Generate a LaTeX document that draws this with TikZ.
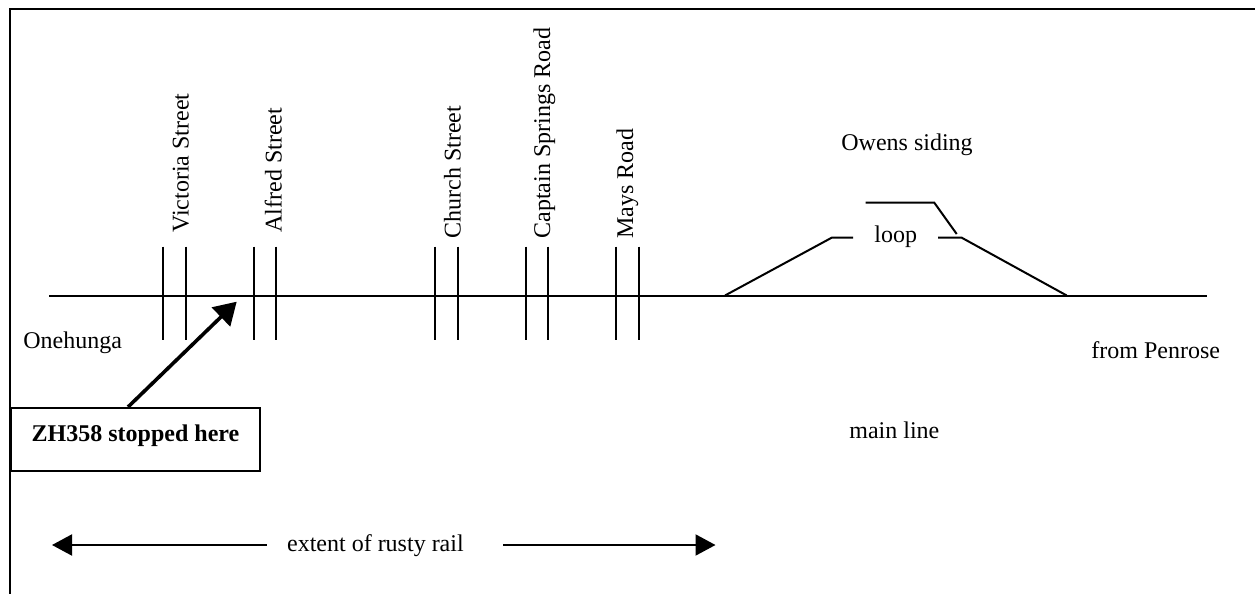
\documentclass[tikz,border=0pt]{standalone}
\usepackage{fontspec}
\setmainfont{Liberation Serif}
\usetikzlibrary{arrows.meta}
\begin{document}
\begin{tikzpicture}[x=0.5pt,y=-0.5pt,
  every node/.style={font=\fontsize{12pt}{14pt}\selectfont, inner sep=0pt},
  rail/.style={line width=1pt},
  road/.style={line width=1pt},
  lbl/.style={anchor=base west},
  rlbl/.style={rotate=90, anchor=base west},
  bigarrow/.style={line width=1.8pt, -{Triangle[length=11pt,width=13pt]}},
  extent/.style={line width=1pt, -{Triangle[length=10pt,width=10.5pt]}},
  frame/.style={line width=1pt}]
\useasboundingbox (0,0) rectangle (1255,594);
% frame
\coordinate (fbl) at (10,594);
\coordinate (ftl) at (10,9);
\coordinate (ftr) at (1255,9);
\draw[frame] (fbl) -- (ftl) -- (ftr);
% main line
\coordinate (mlw) at (49,295.5);
\coordinate (mle) at (1207,295.5);
\draw[rail] (mlw) -- (mle);
% road crossings
\foreach \name/\xa/\xb in {vic/163/186, alf/254/276, chu/435/458, cap/526/548, may/616/639}{
  \coordinate (\name a1) at (\xa,246.5);
  \coordinate (\name a2) at (\xa,340);
  \coordinate (\name b1) at (\xb,246.5);
  \coordinate (\name b2) at (\xb,340);
  \draw[road] (\name a1) -- (\name a2);
  \draw[road] (\name b1) -- (\name b2);
}
% road labels
\node[rlbl] (vicl) at (188.5,233) {Victoria Street};
\node[rlbl] (alfl) at (281.5,233) {Alfred Street};
\node[rlbl] (chul) at (460.5,239) {Church Street};
\node[rlbl] (capl) at (550,239) {Captain Springs Road};
\node[rlbl] (mayl) at (633,239) {Mays Road};
% place labels
\node[lbl] (oneh) at (23,348.3) {Onehunga};
\node[lbl] (penr) at (1091,358.5) {from Penrose};
\node[lbl] (owen) at (841,150.7) {Owens siding};
\node[lbl] (mainl) at (849,438.3) {main line};
\node[lbl] (loop) at (874,242.5) {loop};
% loop tracks
\coordinate (l1) at (725,295.5);
\coordinate (l2) at (831.7,237.7);
\coordinate (l3) at (853,237.7);
\coordinate (r1) at (938,237.7);
\coordinate (r2) at (961.7,237.7);
\coordinate (r3) at (1066.7,295.5);
\coordinate (u1) at (865.7,202.7);
\coordinate (u2) at (934.3,202.7);
\coordinate (u3) at (956.7,234);
\draw[rail] (l1) -- (l2) -- (l3);
\draw[rail] (r1) -- (r2) -- (r3);
\draw[rail] (u1) -- (u2) -- (u3);
% stopped box and arrow
\node[draw, line width=1pt, minimum width=124.5pt, minimum height=31.5pt,
      font=\fontsize{12pt}{14pt}\selectfont\bfseries, text height=8pt, text depth=5.8pt]
      (box) at (135.5,439.5) {ZH358 stopped here};
\coordinate (stop) at (236.7,301.7);
\draw[bigarrow] ([xshift=-3.75pt]box.north) -- (stop);
% extent of rusty rail
\node[lbl] (rust) at (286.7,551.7) {extent of rusty rail};
\coordinate (rle) at (266.7,545);
\coordinate (rlt) at (52,545);
\coordinate (rrs) at (503,545);
\coordinate (rrt) at (715.5,545);
\draw[extent] (rle) -- (rlt);
\draw[extent] (rrs) -- (rrt);
\end{tikzpicture}
\end{document}
